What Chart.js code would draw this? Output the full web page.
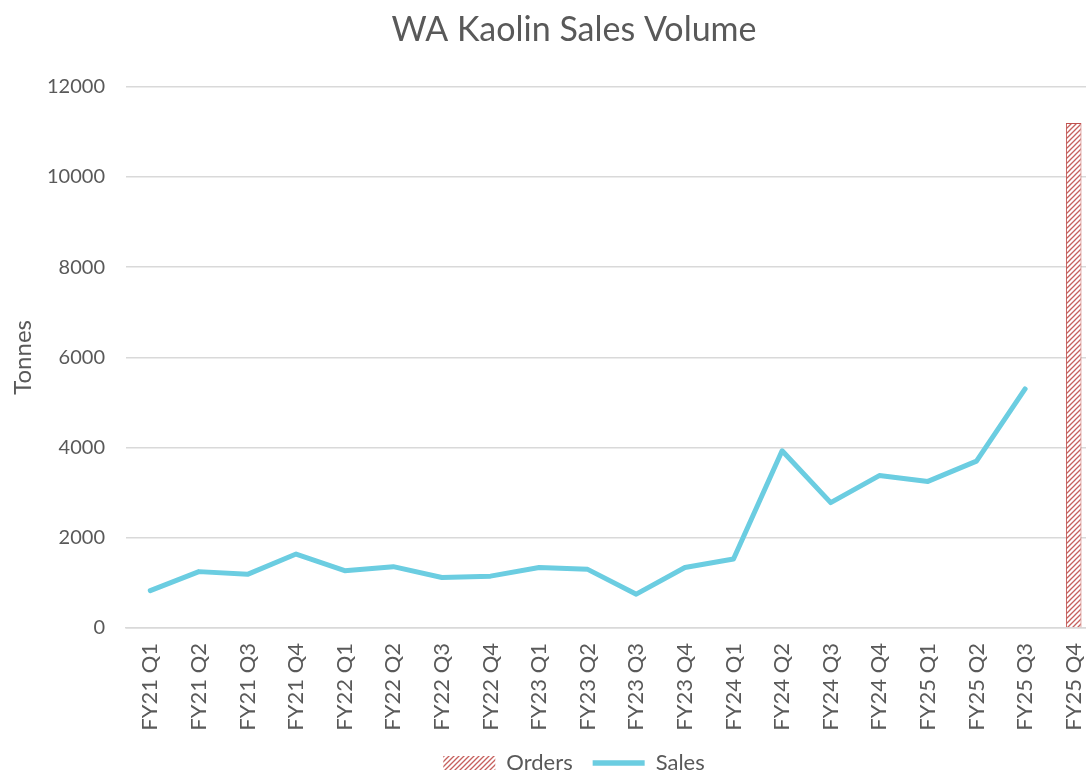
<!DOCTYPE html>
<html>
<head>
<meta charset="utf-8">
<title>WA Kaolin Sales Volume</title>
<script src="https://cdn.jsdelivr.net/npm/chart.js@4"></script>
<style>
  html, body { margin: 0; padding: 0; background: #fff; overflow: hidden; }
  #wrap { width: 1140px; height: 784px; }
</style>
</head>
<body>
<div id="wrap"><canvas id="kaolin-chart"></canvas></div>
<script>
// Quarters shown along the bottom
const quarters = ['FY21 Q1', 'FY21 Q2', 'FY21 Q3', 'FY21 Q4', 'FY22 Q1', 'FY22 Q2', 'FY22 Q3', 'FY22 Q4',
    'FY23 Q1', 'FY23 Q2', 'FY23 Q3', 'FY23 Q4', 'FY24 Q1', 'FY24 Q2', 'FY24 Q3', 'FY24 Q4',
    'FY25 Q1', 'FY25 Q2', 'FY25 Q3', 'FY25 Q4'];

// Tonnes sold each quarter (no sales figure yet for FY25 Q4)
const sales = [830, 1250, 1190, 1640, 1270, 1360, 1120, 1150, 1340, 1300, 750, 1340, 1530,
    3930, 2780, 3380, 3250, 3700, 5300, null];

// Orders on hand, only for the last quarter
const orders = [null, null, null, null, null, null, null, null, null, null, null, null, null,
    null, null, null, null, null, null, 11200];

const yTicks = [0, 2000, 4000, 6000, 8000, 10000, 12000];

const textColor = '#595959';
const gridColor = '#d9d9d9';
const fontFamily = 'Lato, "Open Sans", sans-serif';

// Hatched fill for the orders bar
function makeHatch() {
    const p = document.createElement('canvas');
    p.width = 5;
    p.height = 5;
    const c = p.getContext('2d');
    c.fillStyle = '#ffffff';
    c.fillRect(0, 0, 5, 5);
    c.strokeStyle = 'rgba(192, 80, 77, 0.9)';
    c.lineWidth = 1.3;
    c.beginPath();
    c.moveTo(0, 5); c.lineTo(5, 0);
    c.moveTo(-2.5, 2.5); c.lineTo(2.5, -2.5);
    c.moveTo(2.5, 7.5); c.lineTo(7.5, 2.5);
    c.stroke();
    return c.createPattern(p, 'repeat');
}

const ctx = document.getElementById('kaolin-chart').getContext('2d');
new Chart(ctx, {
    type: 'bar',
    data: {
        labels: quarters,
        datasets: [{
            type: 'bar',
            label: 'Orders',
            data: orders,
            backgroundColor: makeHatch(),
            borderColor: '#c0504d',
            borderWidth: 1,
            categoryPercentage: 1,
            barPercentage: 0.32,
            pointStyle: 'rect',
            order: 2
        }, {
            type: 'line',
            label: 'Sales',
            data: sales,
            borderColor: '#6bcde1',
            backgroundColor: '#6bcde1',
            borderWidth: 5,
            pointRadius: 0,
            pointStyle: 'line',
            tension: 0,
            borderCapStyle: 'round',
            borderJoinStyle: 'round',
            fill: false,
            order: 1
        }]
    },
    options: {
        responsive: true,
        maintainAspectRatio: false,
        animation: false,
        layout: { padding: { left: 8, right: 0, top: 4, bottom: 0 } },
        plugins: {
            title: {
                display: true,
                text: 'WA Kaolin Sales Volume',
                color: textColor,
                font: { family: fontFamily, size: 34, weight: 'normal' },
                padding: { top: 6, bottom: 36 }
            },
            legend: {
                position: 'bottom',
                labels: {
                    color: textColor,
                    font: { family: fontFamily, size: 22 },
                    usePointStyle: true,
                    pointStyleWidth: 52,
                    boxHeight: 14,
                    padding: 20,
                    sort: (a, b) => a.datasetIndex - b.datasetIndex,
                    generateLabels: chart => {
                        const items = Chart.defaults.plugins.legend.labels.generateLabels(chart);
                        items.forEach(item => {
                            if (item.text === 'Orders') item.lineWidth = 0;
                            if (item.text === 'Sales') item.lineWidth = 5.5;
                        });
                        return items;
                    }
                }
            },
            tooltip: { enabled: false }
        },
        scales: {
            x: {
                offset: true,
                grid: { display: false, drawTicks: false },
                border: { display: true, color: gridColor, width: 1.5 },
                ticks: {
                    color: textColor,
                    font: { family: fontFamily, size: 22 },
                    minRotation: 90,
                    maxRotation: 90,
                    autoSkip: false,
                    padding: 15
                },
                afterFit: axis => { axis.height = 104; }
            },
            y: {
                min: 0,
                max: 12000,
                afterBuildTicks: axis => { axis.ticks = yTicks.map(v => ({ value: v })); },
                title: {
                    display: true,
                    text: 'Tonnes',
                    color: textColor,
                    font: { family: fontFamily, size: 24 },
                    padding: { top: 1, bottom: 8 }
                },
                grid: { color: gridColor, lineWidth: 1.5, drawTicks: false },
                border: { display: false },
                ticks: {
                    color: textColor,
                    font: { family: fontFamily, size: 20 },
                    padding: 21,
                    callback: v => String(v)
                },
                afterFit: axis => { axis.width = 118; }
            },
            // empty strip on the right, past the visible edge
            yRight: {
                position: 'right',
                min: 0,
                max: 12000,
                grid: { display: false, drawTicks: false },
                border: { display: false },
                ticks: { display: false },
                afterFit: axis => { axis.width = 42; }
            }
        }
    }
});
</script>
</body>
</html>
